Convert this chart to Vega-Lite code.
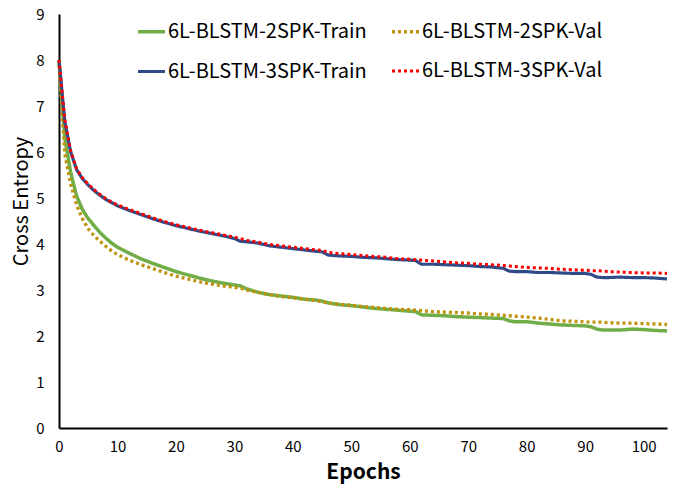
{
  "$schema": "https://vega.github.io/schema/vega-lite/v6.json",
  "autosize": "none",
  "width": 608,
  "height": 414,
  "padding": {"left": 59, "top": 14, "right": 14, "bottom": 57},
  "background": "white",
  "config": {
    "view": {"stroke": null},
    "font": "Noto Sans CJK SC"
  },
  "data": {
    "values": [
      {"e":0,"A":8.0,"B":7.9,"C":8.0,"D":8.0},
      {"e":1,"A":6.3,"B":5.95,"C":6.65,"D":6.7},
      {"e":2,"A":5.55,"B":5.3,"C":6.0,"D":6.02},
      {"e":3,"A":5.05,"B":4.85,"C":5.62,"D":5.64},
      {"e":4,"A":4.75,"B":4.55,"C":5.42,"D":5.44},
      {"e":5,"A":4.55,"B":4.33,"C":5.28,"D":5.3},
      {"e":6,"A":4.4,"B":4.18,"C":5.16,"D":5.18},
      {"e":7,"A":4.25,"B":4.06,"C":5.06,"D":5.08},
      {"e":8,"A":4.13,"B":3.95,"C":4.97,"D":4.99},
      {"e":9,"A":4.02,"B":3.85,"C":4.9,"D":4.91},
      {"e":10,"A":3.93,"B":3.77,"C":4.83,"D":4.85},
      {"e":12,"A":3.8,"B":3.65,"C":4.73,"D":4.75},
      {"e":14,"A":3.68,"B":3.55,"C":4.64,"D":4.66},
      {"e":16,"A":3.58,"B":3.47,"C":4.55,"D":4.57},
      {"e":18,"A":3.49,"B":3.38,"C":4.47,"D":4.49},
      {"e":20,"A":3.4,"B":3.3,"C":4.4,"D":4.42},
      {"e":22,"A":3.33,"B":3.24,"C":4.34,"D":4.36},
      {"e":24,"A":3.26,"B":3.18,"C":4.28,"D":4.3},
      {"e":26,"A":3.2,"B":3.13,"C":4.23,"D":4.25},
      {"e":28,"A":3.15,"B":3.09,"C":4.18,"D":4.2},
      {"e":30,"A":3.11,"B":3.06,"C":4.12,"D":4.15},
      {"e":31,"A":3.09,"B":3.04,"C":4.06,"D":4.12},
      {"e":32,"A":3.03,"B":3.0,"C":4.05,"D":4.08},
      {"e":34,"A":2.95,"B":2.95,"C":4.02,"D":4.04},
      {"e":36,"A":2.9,"B":2.9,"C":3.96,"D":3.99},
      {"e":38,"A":2.87,"B":2.86,"C":3.93,"D":3.96},
      {"e":40,"A":2.84,"B":2.83,"C":3.9,"D":3.93},
      {"e":42,"A":2.8,"B":2.8,"C":3.87,"D":3.9},
      {"e":44,"A":2.78,"B":2.77,"C":3.84,"D":3.87},
      {"e":45,"A":2.76,"B":2.75,"C":3.83,"D":3.86},
      {"e":46,"A":2.72,"B":2.72,"C":3.76,"D":3.82},
      {"e":48,"A":2.68,"B":2.69,"C":3.74,"D":3.79},
      {"e":50,"A":2.66,"B":2.67,"C":3.73,"D":3.77},
      {"e":52,"A":2.63,"B":2.64,"C":3.71,"D":3.75},
      {"e":54,"A":2.6,"B":2.62,"C":3.7,"D":3.73},
      {"e":56,"A":2.58,"B":2.6,"C":3.68,"D":3.71},
      {"e":58,"A":2.56,"B":2.58,"C":3.66,"D":3.68},
      {"e":60,"A":2.54,"B":2.57,"C":3.65,"D":3.67},
      {"e":61,"A":2.53,"B":2.56,"C":3.64,"D":3.66},
      {"e":62,"A":2.46,"B":2.55,"C":3.56,"D":3.65},
      {"e":64,"A":2.45,"B":2.53,"C":3.56,"D":3.63},
      {"e":66,"A":2.44,"B":2.52,"C":3.55,"D":3.61},
      {"e":68,"A":2.42,"B":2.51,"C":3.54,"D":3.59},
      {"e":70,"A":2.41,"B":2.5,"C":3.53,"D":3.58},
      {"e":72,"A":2.4,"B":2.48,"C":3.51,"D":3.56},
      {"e":74,"A":2.39,"B":2.47,"C":3.5,"D":3.55},
      {"e":76,"A":2.38,"B":2.45,"C":3.47,"D":3.53},
      {"e":77,"A":2.33,"B":2.44,"C":3.41,"D":3.52},
      {"e":78,"A":2.31,"B":2.43,"C":3.4,"D":3.51},
      {"e":80,"A":2.31,"B":2.41,"C":3.4,"D":3.49},
      {"e":82,"A":2.28,"B":2.39,"C":3.38,"D":3.48},
      {"e":84,"A":2.26,"B":2.36,"C":3.38,"D":3.47},
      {"e":86,"A":2.24,"B":2.33,"C":3.37,"D":3.45},
      {"e":88,"A":2.23,"B":2.32,"C":3.36,"D":3.44},
      {"e":90,"A":2.22,"B":2.31,"C":3.36,"D":3.43},
      {"e":91,"A":2.2,"B":2.3,"C":3.34,"D":3.42},
      {"e":92,"A":2.15,"B":2.3,"C":3.28,"D":3.42},
      {"e":93,"A":2.13,"B":2.3,"C":3.27,"D":3.41},
      {"e":94,"A":2.13,"B":2.29,"C":3.27,"D":3.4},
      {"e":96,"A":2.13,"B":2.28,"C":3.28,"D":3.39},
      {"e":98,"A":2.15,"B":2.28,"C":3.27,"D":3.38},
      {"e":100,"A":2.14,"B":2.27,"C":3.27,"D":3.37},
      {"e":102,"A":2.12,"B":2.26,"C":3.26,"D":3.37},
      {"e":104,"A":2.11,"B":2.25,"C":3.24,"D":3.36}
    ]
  },
  "transform": [
    {"fold": ["A", "B", "C", "D"], "as": ["series", "value"]}
  ],
  "mark": {"type": "line", "interpolate": "linear"},
  "encoding": {
    "x": {
      "field": "e",
      "type": "quantitative",
      "scale": {"domain": [0, 104], "nice": false},
      "axis": {
        "title": "Epochs",
        "values": [0, 10, 20, 30, 40, 50, 60, 70, 80, 90, 100],
        "grid": false,
        "ticks": false,
        "domainColor": "#000000",
        "domainWidth": 2,
        "labelFontSize": 15,
        "labelColor": "#000000",
        "labelPadding": 11,
        "titleFontSize": 21,
        "titleFontWeight": "bold",
        "titleColor": "#000000",
        "titlePadding": 7,
        "labelFlush": false
      }
    },
    "y": {
      "field": "value",
      "type": "quantitative",
      "scale": {"domain": [0, 9], "nice": false},
      "axis": {
        "title": "Cross Entropy",
        "values": [0, 1, 2, 3, 4, 5, 6, 7, 8, 9],
        "grid": false,
        "ticks": false,
        "domainColor": "#000000",
        "domainWidth": 2,
        "labelFontSize": 15,
        "labelColor": "#000000",
        "labelPadding": 15,
        "titleFontSize": 20,
        "titleFontWeight": "normal",
        "titleColor": "#000000",
        "titlePadding": 4,
        "titleY": 187,
        "labelFlush": false
      }
    },
    "color": {
      "field": "series",
      "type": "nominal",
      "scale": {"domain": ["A", "B", "C", "D"], "range": ["#70AD47", "#C0930F", "#2E4A87", "#FF0000"]},
      "legend": {
        "title": null,
        "orient": "none",
        "direction": "horizontal",
        "legendX": 77,
        "legendY": 2,
        "columns": 2,
        "columnPadding": 18,
        "rowPadding": 14,
        "symbolType": "stroke",
        "symbolSize": 729,
        "symbolStrokeWidth": 3,
        "labelFontSize": 20,
        "labelColor": "#000000",
        "labelLimit": 400,
        "labelOffset": 1,
        "labelExpr": "datum.label == 'A' ? '6L-BLSTM-2SPK-Train' : datum.label == 'B' ? '6L-BLSTM-2SPK-Val' : datum.label == 'C' ? '6L-BLSTM-3SPK-Train' : '6L-BLSTM-3SPK-Val'"
      }
    },
    "strokeDash": {
      "field": "series",
      "type": "nominal",
      "scale": {"domain": ["A", "B", "C", "D"], "range": [[1, 0], [3, 3], [1, 0], [3, 3]]},
      "legend": null
    },
    "strokeWidth": {
      "field": "series",
      "type": "nominal",
      "scale": {"domain": ["A", "B", "C", "D"], "range": [3.5, 3, 3.5, 3]},
      "legend": null
    },
    "order": {"field": "e", "type": "quantitative"}
  }
}
